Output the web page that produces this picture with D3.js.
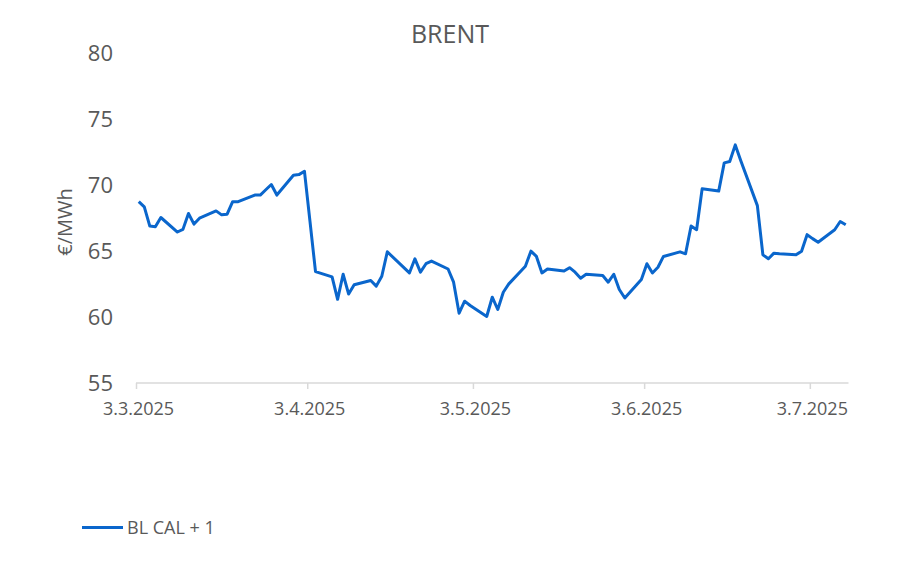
<!DOCTYPE html>
<html><head><meta charset="utf-8">
<script src="https://cdn.jsdelivr.net/npm/d3@7"></script>
<style>body{margin:0;background:#fff}svg{display:block}text{font-family:"Open Sans","Liberation Sans",sans-serif;fill:#595959}</style>
</head><body><svg id="c" width="900" height="574"></svg>
<script>
const title = "BRENT";
const yLabel = "€/MWh";
const seriesName = "BL CAL + 1";
const dates = ["2025-03-03","2025-03-04","2025-03-05","2025-03-06","2025-03-07",
"2025-03-10","2025-03-11","2025-03-12","2025-03-13","2025-03-14",
"2025-03-17","2025-03-18","2025-03-19","2025-03-20","2025-03-21",
"2025-03-24","2025-03-25","2025-03-26","2025-03-27","2025-03-28",
"2025-03-31","2025-04-01","2025-04-02","2025-04-03","2025-04-04",
"2025-04-07","2025-04-08","2025-04-09","2025-04-10","2025-04-11",
"2025-04-14","2025-04-15","2025-04-16","2025-04-17",
"2025-04-21","2025-04-22","2025-04-23","2025-04-24","2025-04-25",
"2025-04-28","2025-04-29","2025-04-30","2025-05-01","2025-05-02",
"2025-05-05","2025-05-06","2025-05-07","2025-05-08","2025-05-09",
"2025-05-12","2025-05-13","2025-05-14","2025-05-15","2025-05-16",
"2025-05-19","2025-05-20","2025-05-21","2025-05-22","2025-05-23",
"2025-05-26","2025-05-27","2025-05-28","2025-05-29","2025-05-30",
"2025-06-02","2025-06-03","2025-06-04","2025-06-05","2025-06-06",
"2025-06-09","2025-06-10","2025-06-11","2025-06-12","2025-06-13",
"2025-06-16","2025-06-17","2025-06-18","2025-06-19","2025-06-20",
"2025-06-23","2025-06-24","2025-06-25","2025-06-26","2025-06-27",
"2025-06-30","2025-07-01","2025-07-02","2025-07-03","2025-07-04",
"2025-07-07","2025-07-08","2025-07-09"];
const values = [68.7,68.3,66.85,66.8,67.5,
66.4,66.6,67.8,67.0,67.45,
68.0,67.7,67.75,68.7,68.7,
69.2,69.2,69.6,70.0,69.2,
70.7,70.75,71.0,67.2,63.4,
63.0,61.3,63.2,61.7,62.4,
62.73,62.3,63.05,64.9,
63.3,64.37,63.36,64.0,64.2,
63.6,62.6,60.25,61.16,60.83,
60.0,61.46,60.53,61.84,62.47,
63.8,64.95,64.55,63.3,63.6,
63.44,63.7,63.36,62.9,63.2,
63.1,62.6,63.2,62.05,61.4,
62.8,64.0,63.3,63.73,64.55,
64.9,64.75,66.85,66.57,69.67,
69.5,71.64,71.74,73.0,71.8,
68.4,64.67,64.37,64.8,64.75,
64.67,64.95,66.2,65.9,65.63,
66.57,67.2,66.95];
const yTicks = [55,60,65,70,75,80];
const xTicks = ["2025-03-03","2025-04-03","2025-05-03","2025-06-03","2025-07-03"];
const xTickLabels = ["3.3.2025","3.4.2025","3.5.2025","3.6.2025","3.7.2025"];
const xDomain = ["2025-03-03","2025-07-10"];

const parse = d3.utcParse("%Y-%m-%d");
const svg = d3.select("#c");
const x = d3.scaleUtc().domain(xDomain.map(parse)).range([136, 848.5]);
const y = d3.scaleLinear().domain([55, 80]).range([382.5, 52.5]);
const halfDay = 12 * 3600 * 1000;

svg.append("text").attr("x", 450).attr("y", 43).attr("text-anchor", "middle")
  .style("font-size", "25px").text(title);

// y axis labels
const ya = svg.append("g").attr("transform", "translate(113,0)")
  .call(d3.axisLeft(y).tickValues(yTicks).tickSize(0).tickPadding(0));
ya.select(".domain").remove();
ya.selectAll("text").style("font-size", "22px").attr("fill", "#595959").attr("dy", "0.36em");

// x axis
const xa = svg.append("g").attr("transform", "translate(0,383)")
  .call(d3.axisBottom(x).tickValues(xTicks.map(parse)).tickSize(6).tickPadding(13)
    .tickFormat((d, i) => xTickLabels[i]));
xa.select(".domain").attr("stroke", "#d9d9d9").attr("stroke-width", 1.5)
  .attr("d", "M136,0H848.5");
xa.selectAll(".tick line").attr("stroke", "#d9d9d9").attr("stroke-width", 1.5);
xa.selectAll("text").style("font-size", "18px").attr("fill", "#595959").attr("dx", "2px");

svg.append("text").attr("transform", "translate(72,222) rotate(-90)")
  .attr("text-anchor", "middle").style("font-size", "20px").text(yLabel);

const data = dates.map((d, i) => ({ d: parse(d), v: values[i] }));
svg.append("path").datum(data)
  .attr("fill", "none").attr("stroke", "#0A66CC").attr("stroke-width", 3)
  .attr("stroke-linejoin", "round")
  .attr("d", d3.line().x(p => x(new Date(+p.d + halfDay))).y(p => y(p.v)));

// legend
svg.append("line").attr("x1", 82).attr("x2", 123).attr("y1", 527.5).attr("y2", 527.5)
  .attr("stroke", "#0A66CC").attr("stroke-width", 3);
svg.append("text").attr("x", 127).attr("y", 534).style("font-size", "18px").text(seriesName);
</script></body></html>
